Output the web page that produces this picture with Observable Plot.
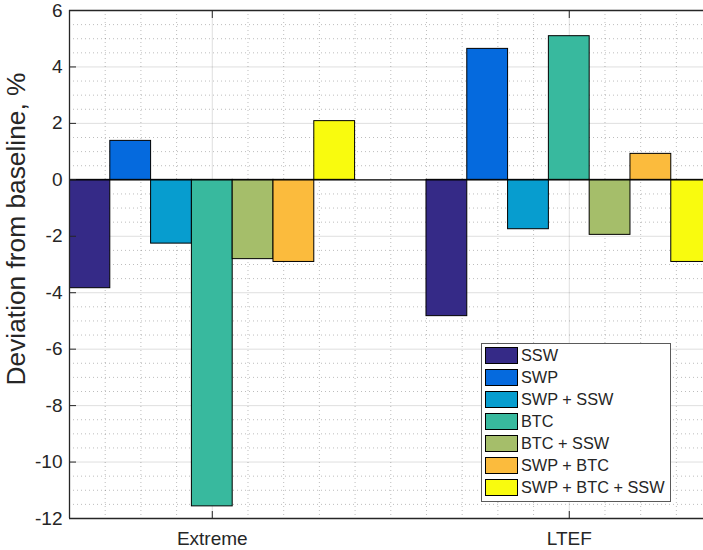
<!DOCTYPE html>
<html>
<head>
<meta charset="utf-8">
<script src="https://cdn.jsdelivr.net/npm/d3@7"></script>
<script src="https://cdn.jsdelivr.net/npm/@observablehq/plot@0.6"></script>
<style>
  body { margin: 0; background: #fff; }
  #wrap { position: relative; width: 703px; height: 550px; overflow: hidden; background: #fff;
          font-family: "Liberation Sans", Arial, Helvetica, sans-serif; color: #262626; }
  #ylabel { position: absolute; left: 16px; top: 229px; transform: translate(-50%, -50%) rotate(-90deg);
            white-space: nowrap; font-size: 26.3px; }
  #legend { position: absolute; left: 481px; top: 343px; width: 188px; height: 157px;
            border: 1px solid #5a5a5a; background: #fff; }
  .item { position: absolute; left: 3px; height: 17px; display: flex; align-items: center;
          font-size: 16.3px; white-space: nowrap; }
  .sw { width: 31px; height: 15px; border: 1px solid #000; margin-right: 3px; flex: none; }
</style>
</head>
<body>
<div id="wrap"></div>
<script>
// ---- data ----
const categories = ["Extreme", "LTEF"];
const series = ["SSW", "SWP", "SWP + SSW", "BTC", "BTC + SSW", "SWP + BTC", "SWP + BTC + SSW"];
const extremeValues = [-3.84, 1.38, -2.26, -11.57, -2.81, -2.91, 2.08];
const ltefValues = [-4.83, 4.64, -1.75, 5.09, -1.95, 0.92, -2.91];
const colors = ["#352a87", "#056ade", "#079dcf", "#38b99e", "#a5be6a", "#fbbb3d", "#f9fb0e"];
const yTicks = [-12, -10, -8, -6, -4, -2, 0, 2, 4, 6];
const yDomain = [-12, 6];
const xDomain = [0.6, 2.376];

// ---- build table ----
const groupWidth = 0.8;
const barW = groupWidth / series.length;
const table = [];
[extremeValues, ltefValues].forEach((vals, gi) => {
  vals.forEach((v, si) => {
    const center = gi + 1 + (si - (series.length - 1) / 2) * barW;
    table.push({category: categories[gi], series: series[si], value: v,
                x1: center - barW / 2, x2: center + barW / 2});
  });
});

const yMinor = d3.range(yDomain[0], yDomain[1] + 0.001, 0.5).filter(v => !yTicks.includes(v));
const xMinor = d3.range(0.7, 2.4, 0.1).map(v => Math.round(v * 10) / 10).filter(v => v !== 1 && v !== 2);

const gridMajor = {stroke: "#262626", strokeOpacity: 0.15, strokeWidth: 1};
const gridMinor = {stroke: "#262626", strokeOpacity: 0.3, strokeWidth: 1, strokeDasharray: "1,3"};

const chart = Plot.plot({
  width: 703,
  height: 550,
  marginLeft: 69,
  marginRight: 0,
  marginTop: 10,
  marginBottom: 32,
  style: {fontFamily: '"Liberation Sans", Arial, Helvetica, sans-serif', fontSize: "19px",
          color: "#262626", background: "#fff", overflow: "hidden"},
  x: {domain: xDomain, axis: null},
  y: {domain: yDomain, axis: null},
  color: {domain: series, range: colors},
  marks: [
    Plot.ruleY(yMinor, {...gridMinor}),
    Plot.ruleX(xMinor, {...gridMinor}),
    Plot.ruleY(yTicks, {...gridMajor}),
    Plot.ruleX([1, 2], {...gridMajor}),
    Plot.rectY(table, {x1: "x1", x2: "x2", y1: 0, y2: "value", fill: "series",
                       stroke: "#000", strokeWidth: 1, clip: true}),
    Plot.ruleY([0], {stroke: "#000", strokeWidth: 1.2}),
    Plot.axisY(yTicks, {anchor: "left", tickSize: -7, tickPadding: 14, label: null,
                        tickFormat: d => String(d),
                        stroke: "#262626", fill: "#262626", fontSize: 19}),
    Plot.axisX([1, 2], {anchor: "bottom", tickSize: -7, tickPadding: 20, label: null,
                        tickFormat: d => categories[d - 1], stroke: "#262626", fill: "#262626", fontSize: 19}),
    Plot.axisX([1, 2], {anchor: "top", tickSize: -7, label: null, tickFormat: () => "",
                        stroke: "#262626"}),
    Plot.ruleY([yDomain[0], yDomain[1]], {stroke: "#262626", strokeWidth: 1.3}),
    Plot.ruleX([xDomain[0]], {stroke: "#262626", strokeWidth: 1.3})
  ]
});

const wrap = document.getElementById("wrap");
wrap.appendChild(chart);

const yl = document.createElement("div");
yl.id = "ylabel";
yl.textContent = "Deviation from baseline, %";
wrap.appendChild(yl);

const lg = document.createElement("div");
lg.id = "legend";
series.forEach((s, i) => {
  const it = document.createElement("div");
  it.className = "item";
  it.style.top = (3 + i * 22) + "px";
  const sw = document.createElement("div");
  sw.className = "sw";
  sw.style.background = colors[i];
  const t = document.createElement("span");
  t.textContent = s;
  it.appendChild(sw);
  it.appendChild(t);
  lg.appendChild(it);
});
wrap.appendChild(lg);
</script>
</body>
</html>
